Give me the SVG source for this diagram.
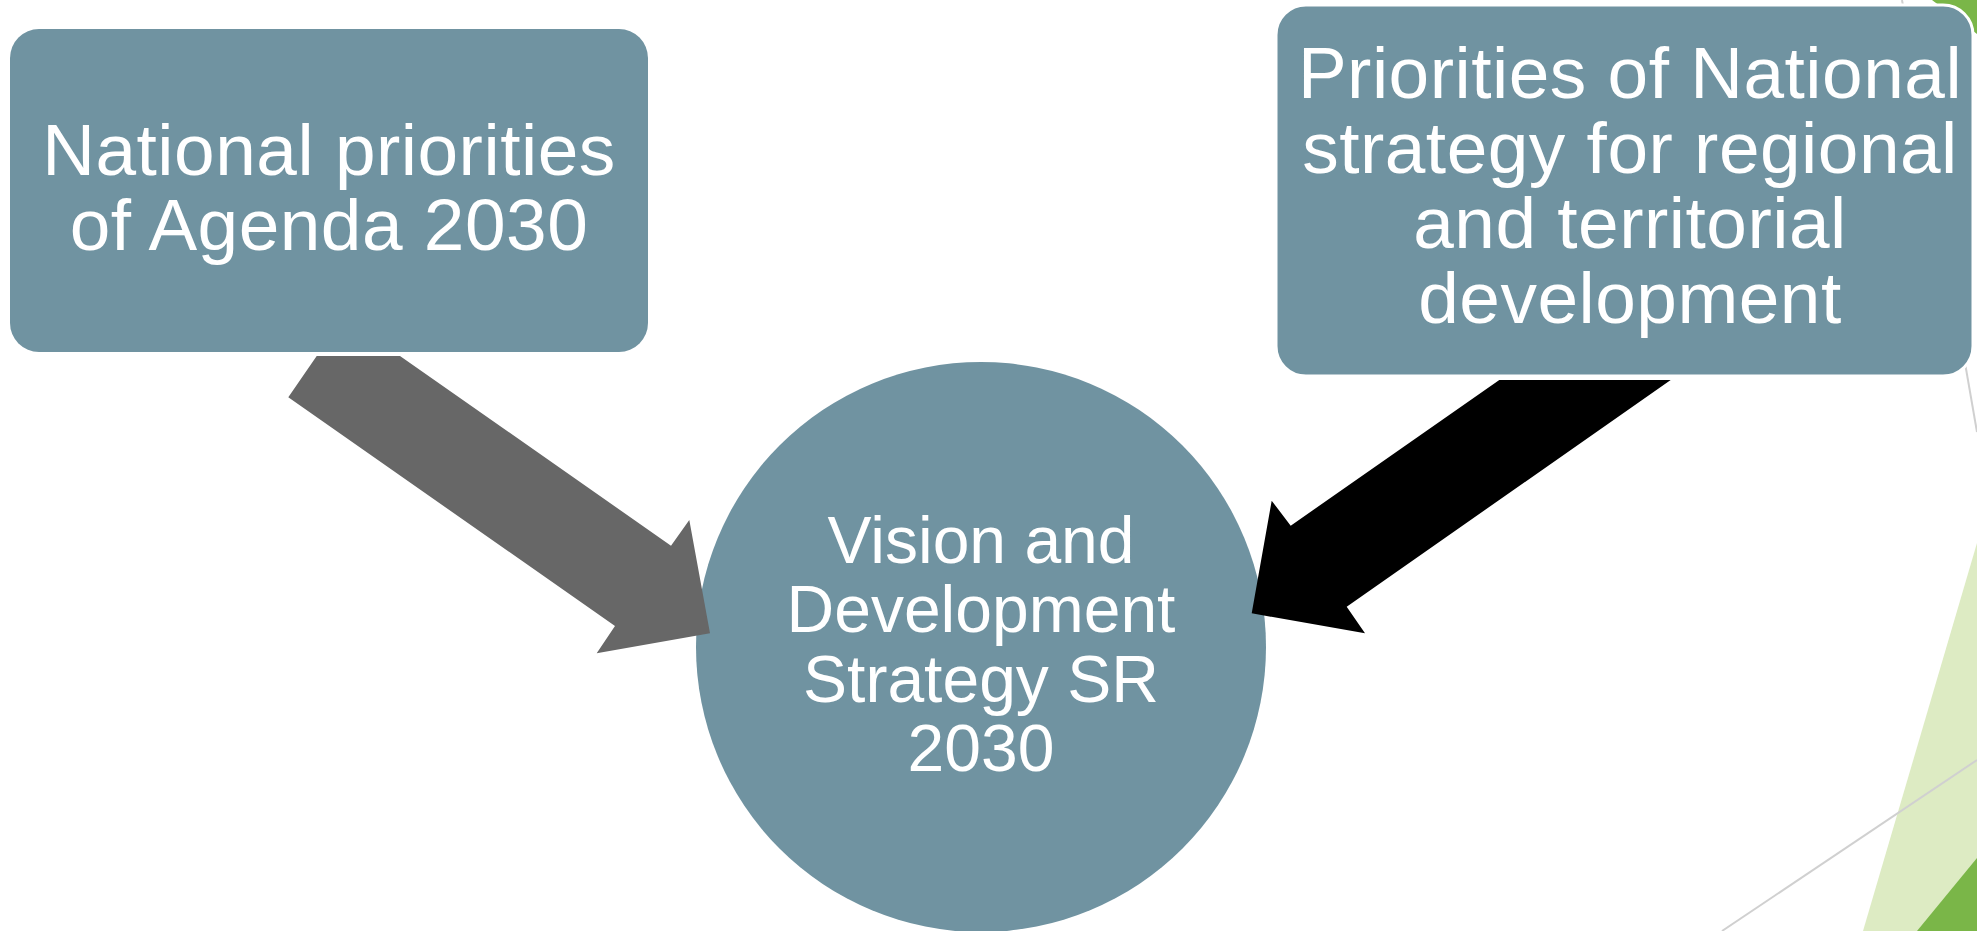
<svg xmlns="http://www.w3.org/2000/svg" width="1977" height="931" viewBox="0 0 1977 931">
  <style>
    .node { fill: #7093A1; }
    .label { font-family: "Liberation Sans", Arial, sans-serif; fill: #FFFFFF; text-anchor: middle; }
    .boxtxt { font-size: 73px; letter-spacing: 0.5px; }
    .circtxt { font-size: 66px; }
    .deco-line { stroke: #D0D0D0; stroke-width: 2; fill: none; }
  </style>
  <rect width="1977" height="931" fill="#FFFFFF"/>
  <g id="decoration">
    <polygon points="1977,543 1863,931 1977,931" fill="#DDEBC3"/>
    <polygon points="1977,858 1917,931 1977,931" fill="#7AB648"/>
    <line class="deco-line" x1="1977" y1="760" x2="1722" y2="931"/>
    <polygon points="1932,0 1977,0 1977,34" fill="#7AB648"/>
    <line class="deco-line" x1="1902" y1="0" x2="1977" y2="432"/>
  </g>
  <g id="node-agenda">
    <rect class="node" x="10" y="29" width="638" height="323" rx="29" ry="29"/>
    <text class="label boxtxt" x="329" y="175">National priorities</text>
    <text class="label boxtxt" x="329" y="250">of Agenda 2030</text>
  </g>
  <g id="node-regional">
    <rect class="node" x="1276" y="5" width="697" height="371" rx="30" ry="30" stroke="#FFFFFF" stroke-width="3"/>
    <text class="label boxtxt" x="1630" y="98">Priorities of National</text>
    <text class="label boxtxt" x="1630" y="173">strategy for regional</text>
    <text class="label boxtxt" x="1630" y="248">and territorial</text>
    <text class="label boxtxt" x="1630" y="323">development</text>
  </g>
  <g id="node-vision">
    <circle class="node" cx="981" cy="647" r="285"/>
    <text class="label circtxt" x="981" y="563">Vision and</text>
    <text class="label circtxt" x="981" y="632">Development</text>
    <text class="label circtxt" x="981" y="702">Strategy SR</text>
    <text class="label circtxt" x="981" y="771">2030</text>
  </g>
  <g id="connectors">
    <polygon points="316.7,356 400,356 671,545.7 689.3,520 710,633.3 596.7,653.3 615,626 288.3,397.3" fill="#676767"/>
    <polygon points="1499.3,380 1670.7,380 1346.7,606.7 1365,633.3 1251.7,613.3 1271.7,500.7 1290.7,525.7" fill="#000000"/>
  </g>
</svg>
